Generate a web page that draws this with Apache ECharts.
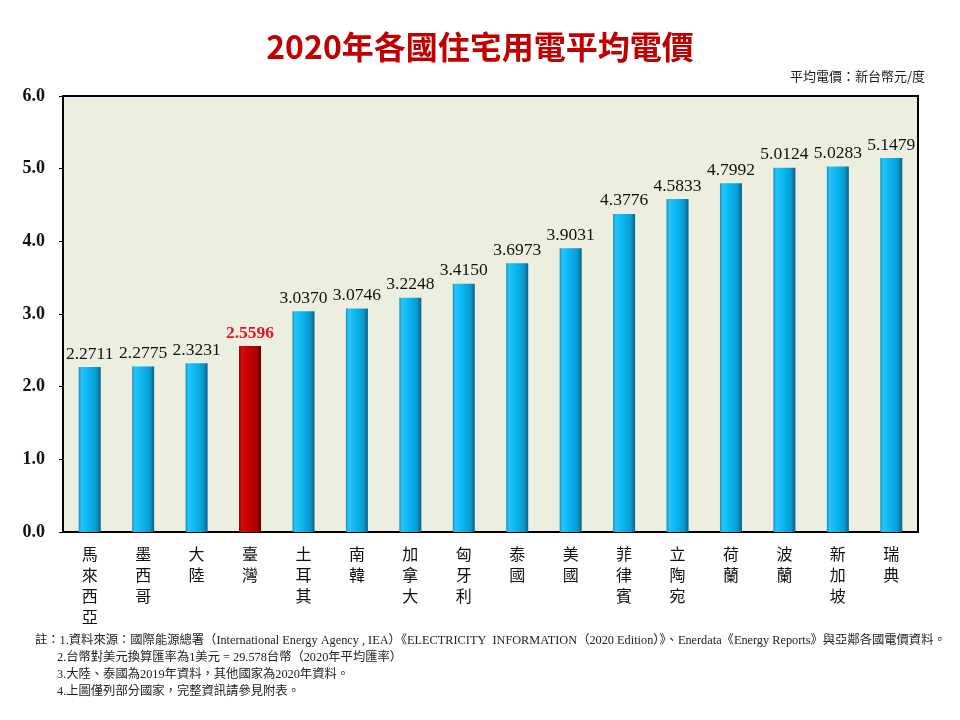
<!DOCTYPE html>
<html>
<head>
<meta charset="utf-8">
<script src="https://cdn.jsdelivr.net/npm/echarts@6/dist/echarts.min.js"></script>
<style>html,body{margin:0;padding:0;background:#fff;}#c{width:960px;height:720px;}</style>
</head>
<body>
<div id="c"></div>
<script>
const categories = ['馬來西亞','墨西哥','大陸','臺灣','土耳其','南韓','加拿大','匈牙利','泰國','美國','菲律賓','立陶宛','荷蘭','波蘭','新加坡','瑞典'];
const prices = [2.2711, 2.2775, 2.3231, 2.5596, 3.0370, 3.0746, 3.2248, 3.4150, 3.6973, 3.9031, 4.3776, 4.5833, 4.7992, 5.0124, 5.0283, 5.1479];
const highlight = '臺灣';
const yTicks = [0, 1, 2, 3, 4, 5, 6];
const titleText = '2020年各國住宅用電平均電價';
const unitText = '平均電價：新台幣元/度';
const notes = [
  '註：1.資料來源：國際能源總署（International Energy Agency , IEA）《ELECTRICITY  INFORMATION（2020 Edition）》、Enerdata《Energy Reports》與亞鄰各國電價資料。',
  '2.台幣對美元換算匯率為1美元 = 29.578台幣（2020年平均匯率）',
  '3.大陸、泰國為2019年資料，其他國家為2020年資料。',
  '4.上圖僅列部分國家，完整資訊請參見附表。'
];

const blueGrad = new echarts.graphic.LinearGradient(0, 0, 1, 0, [
  {offset: 0, color: '#1590c0'},
  {offset: 0.12, color: '#28c4f7'},
  {offset: 0.45, color: '#08b6f0'},
  {offset: 0.8, color: '#0a9ad0'},
  {offset: 1, color: '#0d5f86'}
]);
const redGrad = new echarts.graphic.LinearGradient(0, 0, 1, 0, [
  {offset: 0, color: '#8a0000'},
  {offset: 0.12, color: '#d01010'},
  {offset: 0.45, color: '#c40000'},
  {offset: 0.8, color: '#a80000'},
  {offset: 1, color: '#600000'}
]);

const seriesData = prices.map((v, i) => {
  const isH = categories[i] === highlight;
  return {
    value: v,
    itemStyle: {color: isH ? redGrad : blueGrad},
    label: isH ? {color: '#e8141c', fontWeight: 'bold'} : {}
  };
});

const chart = echarts.init(document.getElementById('c'), null, {renderer: 'canvas'});
const cjk = '"Noto Sans CJK TC", "Noto Sans CJK SC", sans-serif';
const serif = '"Liberation Serif", "Times New Roman", serif';

const graphics = [
  {type: 'text', left: 'center', top: 31, style: {text: titleText, font: 'bold 32px ' + cjk, fill: '#c00000'}},
  {type: 'text', right: 35, top: 70, style: {text: unitText, font: '13px ' + cjk, fill: '#222'}}
];
notes.forEach((t, i) => {
  graphics.push({type: 'text', left: i === 0 ? 35 : 57, top: 635 + i * 17,
    style: {text: t, font: '12.3px ' + '"Liberation Serif", "Noto Sans CJK TC", serif', fill: '#222'}});
});

chart.setOption({
  animation: false,
  backgroundColor: '#ffffff',
  grid: {left: 63, right: 42, top: 96, bottom: 188, show: true, backgroundColor: '#eceee0', borderColor: '#000', borderWidth: 2},
  xAxis: {
    type: 'category',
    data: categories,
    axisLine: {show: true, lineStyle: {color: '#000', width: 2}},
    axisTick: {show: false},
    axisLabel: {
      interval: 0, margin: 11, color: '#111', fontSize: 16, fontFamily: cjk, lineHeight: 21,
      verticalAlign: 'top',
      formatter: v => v.split('').join('\n')
    }
  },
  yAxis: {
    type: 'value', min: 0, max: 6, interval: 1,
    axisLine: {show: true, lineStyle: {color: '#000', width: 2}},
    axisTick: {show: true, length: 4, lineStyle: {color: '#000'}},
    splitLine: {show: false},
    axisLabel: {formatter: v => v.toFixed(1), color: '#111', fontSize: 18, fontWeight: 'bold', fontFamily: serif, margin: 18}
  },
  series: [{
    type: 'bar',
    data: seriesData,
    barWidth: 22,
    label: {show: true, position: 'top', distance: 4, color: '#111', fontSize: 17.5, fontFamily: serif,
      formatter: p => p.value.toFixed(4)}
  }],
  graphic: graphics
});
</script>
</body>
</html>
